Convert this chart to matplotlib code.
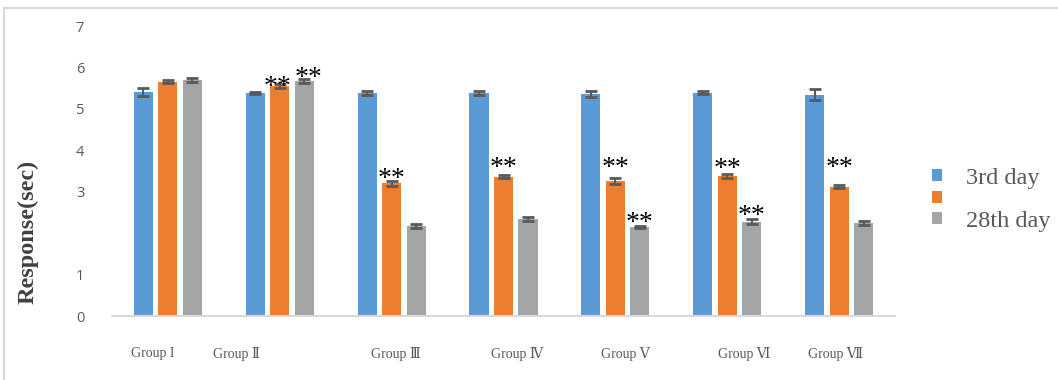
import numpy as np
import matplotlib
matplotlib.use("Agg")
import matplotlib.pyplot as plt
from matplotlib.patches import Rectangle

# ---- data -------------------------------------------------------------
groups = ["Group I", "Group Ⅱ", "Group Ⅲ", "Group Ⅳ", "Group Ⅴ", "Group Ⅵ", "Group Ⅶ"]
series_names = ["3rd day", "", "28th day"]

day3 = [5.41, 5.38, 5.39, 5.39, 5.36, 5.39, 5.34]
mid = [5.66, 5.56, 3.21, 3.36, 3.26, 3.38, 3.12]
day28 = [5.70, 5.68, 2.17, 2.34, 2.15, 2.27, 2.25]

day3_err = [0.10, 0.03, 0.05, 0.05, 0.08, 0.04, 0.13]
mid_err = [0.04, 0.05, 0.06, 0.04, 0.08, 0.04, 0.04]
day28_err = [0.05, 0.05, 0.04, 0.05, 0.03, 0.06, 0.05]

# significance marks: (group index, series index)
sig_marks = [(1, 1), (1, 2), (2, 1), (3, 1), (4, 1), (4, 2), (5, 1), (5, 2), (6, 1)]

y_ticks = [0, 1, 3, 4, 5, 6, 7]

# ---- styling ----------------------------------------------------------
colors = ["#5B9BD5", "#ED7D31", "#A5A5A5"]
err_color = "#595959"
text_gray = "#595959"
serif = ["Liberation Serif", "DejaVu Serif"]

# offsets (px) of each "**" centre from its bar's top centre
sig_dy_px = [0, 4, 5, 10, 14, 5, 8, 7, 20]
sig_dx_px = [-2, 4, 0, 0, 0, 0, 0, 0, 0]
# horizontal nudges of the group labels, in category units
label_shift = [-0.14, -0.39, 0.04, 0.12, 0.09, 0.15, -0.03]

W, H = 1058, 380
fig = plt.figure(figsize=(W / 100, H / 100), dpi=100)
fig.patch.set_facecolor("white")

# outer frame (left and top edges visible)
fig.patches.append(Rectangle((4 / W, -0.1), 1.2, 1 - 8 / H + 0.1,
                             transform=fig.transFigure, fill=False,
                             edgecolor="#D9D9D9", linewidth=1.6))

ax_left, ax_right = 112 / W, 895 / W
ax_bottom, ax_top = 1 - 316 / H, 1 - 26 / H
ax = fig.add_axes([ax_left, ax_bottom, ax_right - ax_left, ax_top - ax_bottom])

x = np.arange(len(groups))
bar_w = 0.17
step = 0.219
all_vals = [day3, mid, day28]
all_errs = [day3_err, mid_err, day28_err]

bar_sets = []
for k, (vals, errs) in enumerate(zip(all_vals, all_errs)):
    xs = x + (k - 1) * step
    bars = ax.bar(xs, vals, width=bar_w, color=colors[k], zorder=2)
    bar_sets.append(bars)
    ax.errorbar(xs, vals, yerr=errs, fmt="none", ecolor=err_color,
                elinewidth=1.5, capsize=4.5, capthick=2.0, zorder=3)

for (g, s), dx, dy in zip(sig_marks, sig_dx_px, sig_dy_px):
    xs = x[g] + (s - 1) * step
    ax.annotate("**", xy=(xs, all_vals[s][g]),
                xytext=(dx * 0.72, dy * 0.72 - 1),
                textcoords="offset points", ha="center", va="center",
                fontsize=20, family=serif, color="black", zorder=4)

ax.set_xlim(-0.5, len(groups) - 0.5)
ax.set_ylim(0, 7)
ax.set_yticks(y_ticks)
ax.set_yticklabels([str(t) for t in y_ticks], fontsize=10.5,
                   color=text_gray, family="Open Sans")
ax.tick_params(axis="y", length=0, pad=20)
ax.set_xticks(x + np.array(label_shift))
ax.set_xticklabels(groups, fontsize=10, color=text_gray, family=serif)
ax.tick_params(axis="x", length=0, pad=22)

for side in ["top", "right", "left"]:
    ax.spines[side].set_visible(False)
ax.spines["bottom"].set_color("#D9D9D9")
ax.spines["bottom"].set_linewidth(1.5)

fig.text(28 / W, 1 - 232 / H, "Response(sec)", rotation=90, ha="center",
         va="center", fontsize=17.5, fontweight="bold", family=serif,
         color="#404040")

ax.legend(bar_sets, series_names, loc="upper left",
          bbox_to_anchor=(932 / W, 1 - 168 / H),
          bbox_transform=fig.transFigure, frameon=False,
          prop={"family": serif, "size": 17.5}, labelcolor=text_gray,
          handlelength=0.41, handleheight=0.37, handletextpad=1.0,
          labelspacing=0.02, borderpad=0, borderaxespad=0)

fig.savefig("out.png", dpi=100, facecolor="white")
